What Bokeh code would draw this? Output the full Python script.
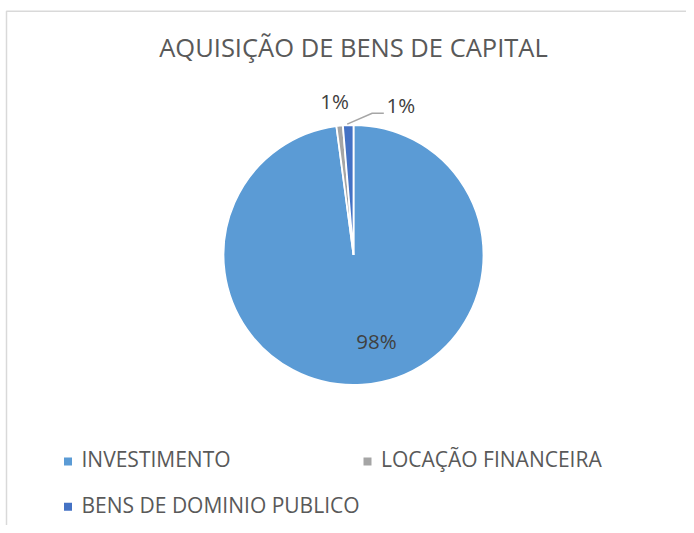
import numpy as np
from bokeh.plotting import figure
from bokeh.models import Range1d, Label
from bokeh.embed import file_html
from bokeh.resources import INLINE

# ---- data ----
title_text = "AQUISIÇÃO DE BENS DE CAPITAL"
categories = ["INVESTIMENTO", "LOCAÇÃO FINANCEIRA", "BENS DE DOMINIO PUBLICO"]
shares = [97.9, 0.8, 1.3]          # percent of total
colors = ["#5B9BD5", "#A5A5A5", "#4472C4"]

# ---- layout (pixel-like data units: x = px, y = H - px) ----
W, H = 686, 525
FONT = "Open Sans"
cx, cy, R = 353, H - 254.5, 130

def ty(px_baseline, fs):
    # baseline position (from top) -> data y, compensating renderer offset
    return H - px_baseline + 0.42 * fs

p = figure(width=W, height=H, x_range=Range1d(0, W), y_range=Range1d(0, H),
           output_backend="svg", toolbar_location=None, min_border=0,
           background_fill_color="white", border_fill_color="white")
p.axis.visible = False
p.grid.visible = False
p.outline_line_color = None

# chart border (top and left visible)
p.line(x=[6, 6, W], y=[0, H - 10.8, H - 10.8], line_color="#D9D9D9", line_width=1.5)

# pie: start at 12 o'clock, clockwise
vals = np.array(shares, dtype=float)
frac = vals / vals.sum()
cum = np.concatenate([[0], np.cumsum(frac)])
start = np.pi / 2 - 2 * np.pi * cum[:-1]
end = np.pi / 2 - 2 * np.pi * cum[1:]
p.wedge(x=[cx] * 3, y=[cy] * 3, radius=R, start_angle=list(start), end_angle=list(end),
        direction="clock", fill_color=colors, line_color="white", line_width=1.8)

# data labels
pct = [f"{round(v):d}%" for v in frac * 100]
mid = (start + end) / 2
LFS = 20.5
lab = dict(text_baseline="alphabetic", text_font=FONT, text_font_size=f"{LFS}px", text_color="#404040")
p.add_layout(Label(x=cx + 23, y=ty(349, LFS), text=pct[0], text_align="center", **lab))
p.add_layout(Label(x=334, y=ty(109.5, LFS), text=pct[1], text_align="center", **lab))
p.add_layout(Label(x=386, y=ty(112.7, LFS), text=pct[2], text_align="left", **lab))
# leader line for last slice
sx, sy = cx + R * np.cos(mid[2]) - 1, cy + R * np.sin(mid[2]) + 1
p.line(x=[sx, 371.7, 383.3], y=[sy, H - 112.7, H - 112.7], line_color="#A6A6A6", line_width=1.5)

# title
TFS = 25.5
p.add_layout(Label(x=cx, y=ty(57.5, TFS), text=title_text, text_align="center", text_baseline="alphabetic",
                   text_font=FONT, text_font_size=f"{TFS}px", text_color="#595959"))

# legend (manual, Excel-like)
GFS = 21
leg_pos = [(67.5, 461), (367, 461), (67.5, 506.3)]
for (lx, ly), name, col in zip(leg_pos, categories, colors):
    p.scatter(x=[lx], y=[H - ly], marker="square", size=8, fill_color=col, line_color=None)
    p.add_layout(Label(x=lx + 13.5, y=ty(ly + 6.7, GFS), text=name, text_align="left", text_baseline="alphabetic",
                       text_font=FONT, text_font_size=f"{GFS}px", text_color="#595959"))

open("out.html", "w").write(file_html(p, INLINE))
